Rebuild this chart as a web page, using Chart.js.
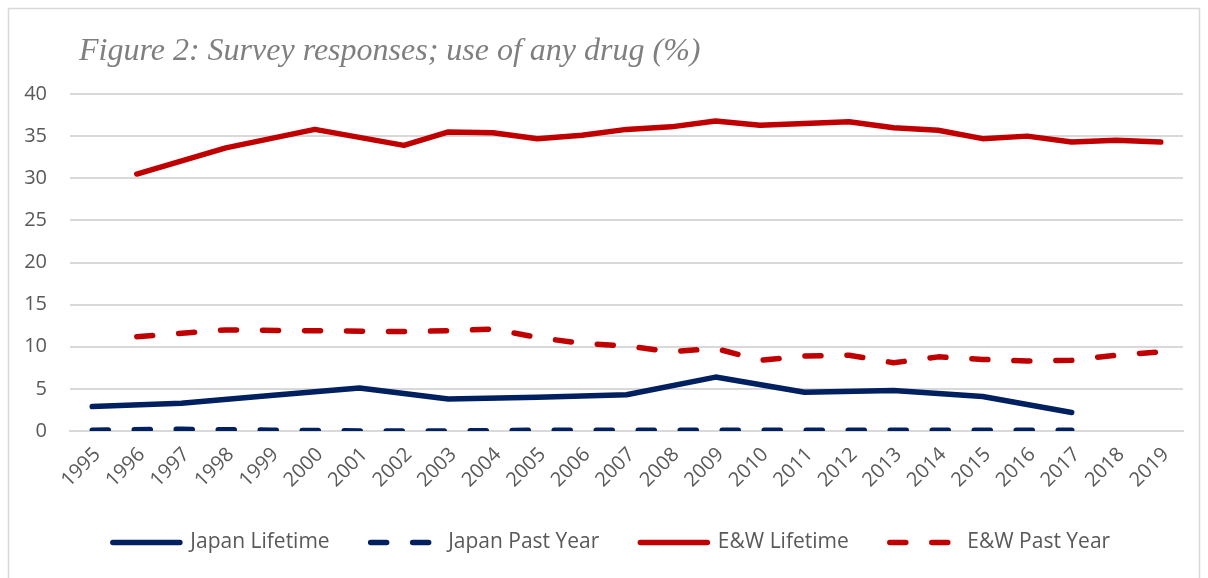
<!DOCTYPE html>
<html>
<head>
<meta charset="utf-8">
<script src="https://cdn.jsdelivr.net/npm/chart.js@4/dist/chart.umd.min.js"></script>
<style>
  html, body { margin: 0; padding: 0; background: #ffffff; }
  #wrap { position: relative; width: 1208px; height: 578px; }
</style>
</head>
<body>
<div id="wrap"><canvas id="chart" width="1208" height="578"></canvas></div>
<script>
// Survey years on the horizontal axis
const years = ['1995','1996','1997','1998','1999','2000','2001','2002','2003','2004','2005','2006',
               '2007','2008','2009','2010','2011','2012','2013','2014','2015','2016','2017','2018','2019'];

// Japan survey runs every other year; gaps are bridged by the line
const japanLifetime = [2.9, null, 3.3, null, 4.2, null, 5.1, null, 3.8, null, 4.0, null,
                       4.3, null, 6.4, null, 4.6, null, 4.8, null, 4.1, null, 2.2, null, null];
const japanPastYear = [0.1, null, 0.2, null, 0.1, null, 0.0, null, 0.0, null, 0.1, null,
                       0.1, null, 0.1, null, 0.1, null, 0.1, null, 0.1, null, 0.1, null, null];

// England & Wales survey
const ewLifetime = [null, 30.5, null, 33.6, null, 35.8, null, 33.9, 35.5, 35.4, 34.7, 35.1,
                    35.8, 36.1, 36.8, 36.3, 36.5, 36.7, 36.0, 35.7, 34.7, 35.0, 34.3, 34.5, 34.3];
const ewPastYear = [null, 11.2, null, 12.0, null, 11.9, null, 11.8, 11.9, 12.1, 11.1, 10.4,
                    10.1, 9.4, 9.8, 8.4, 8.9, 9.0, 8.1, 8.8, 8.5, 8.3, 8.4, 9.0, 9.4];

const seriesNames = ['Japan Lifetime', 'Japan Past Year', 'E&W Lifetime', 'E&W Past Year'];
const yTicks = { min: 0, max: 40, step: 5 };
const titleText = 'Figure 2: Survey responses; use of any drug (%)';

const NAVY = '#002060';
const RED = '#C00000';
const TEXT_GREY = '#595959';
const GRID_GREY = '#d9d9d9';
const DASH = [16, 26];
const LINE_W = 5.5;

function lineSeries(label, data, color, dashed) {
  return {
    label: label,
    data: data,
    borderColor: color,
    backgroundColor: color,
    borderWidth: LINE_W,
    borderCapStyle: 'round',
    borderJoinStyle: 'round',
    borderDash: dashed ? DASH : [],
    pointRadius: 0,
    pointHoverRadius: 0,
    tension: 0,
    spanGaps: true
  };
}

// Outer frame, italic figure caption and a small horizontal nudge for the legend row
const frameAndCaption = {
  id: 'frameAndCaption',
  afterLayout(chart) {
    const lg = chart.legend;
    if (lg) { lg.left += 11; lg.right += 11; }
  },
  beforeDraw(chart) {
    const ctx = chart.ctx;
    ctx.save();
    ctx.fillStyle = '#ffffff';
    ctx.fillRect(0, 0, chart.width, chart.height);
    ctx.strokeStyle = GRID_GREY;
    ctx.lineWidth = 1.5;
    ctx.strokeRect(8.5, 8.5, 1191, 620);
    ctx.restore();
  },
  afterDraw(chart) {
    const ctx = chart.ctx;
    ctx.save();
    ctx.font = 'italic 32px "Liberation Serif", "DejaVu Serif", serif';
    ctx.fillStyle = '#7f7f7f';
    ctx.textAlign = 'left';
    ctx.textBaseline = 'alphabetic';
    ctx.fillText(titleText, 79, 60);
    ctx.restore();
  }
};

const tickFont = { family: '"Open Sans", "Liberation Sans", sans-serif', size: 20 };

new Chart(document.getElementById('chart'), {
  type: 'line',
  data: {
    labels: years,
    datasets: [
      lineSeries(seriesNames[0], japanLifetime, NAVY, false),
      lineSeries(seriesNames[1], japanPastYear, NAVY, true),
      lineSeries(seriesNames[2], ewLifetime, RED, false),
      lineSeries(seriesNames[3], ewPastYear, RED, true)
    ]
  },
  options: {
    responsive: false,
    animation: false,
    devicePixelRatio: 1,
    layout: { padding: { top: 94, left: 18, right: 25, bottom: 15 } },
    plugins: {
      title: { display: false },
      tooltip: { enabled: false },
      legend: {
        display: true,
        position: 'bottom',
        align: 'center',
        labels: {
          usePointStyle: true,
          pointStyle: 'line',
          pointStyleWidth: 67,
          padding: 41,
          color: TEXT_GREY,
          font: { family: '"Open Sans", "Liberation Sans", sans-serif', size: 21 },
          generateLabels(chart) {
            return chart.data.datasets.map((ds, i) => ({
              text: ds.label,
              datasetIndex: i,
              fillStyle: ds.borderColor,
              strokeStyle: ds.borderColor,
              fontColor: TEXT_GREY,
              lineWidth: ds.borderWidth,
              lineDash: ds.borderDash,
              lineCap: 'round',
              lineJoin: 'round',
              pointStyle: 'line',
              hidden: !chart.isDatasetVisible(i)
            }));
          }
        }
      }
    },
    scales: {
      x: {
        type: 'category',
        offset: true,
        grid: { display: false, drawTicks: false },
        border: { display: true, color: GRID_GREY, width: 2 },
        ticks: {
          autoSkip: false,
          minRotation: 45,
          maxRotation: 45,
          padding: 12,
          labelOffset: 5,
          color: TEXT_GREY,
          font: tickFont
        },
        afterFit(scale) { scale.height = 60; }
      },
      y: {
        min: yTicks.min,
        max: yTicks.max,
        grid: { color: GRID_GREY, lineWidth: 2, drawTicks: false },
        border: { display: false },
        ticks: {
          stepSize: yTicks.step,
          padding: 23,
          color: TEXT_GREY,
          font: tickFont
        },
        afterFit(scale) { scale.width = 52; }
      }
    }
  },
  plugins: [frameAndCaption]
});
</script>
</body>
</html>
